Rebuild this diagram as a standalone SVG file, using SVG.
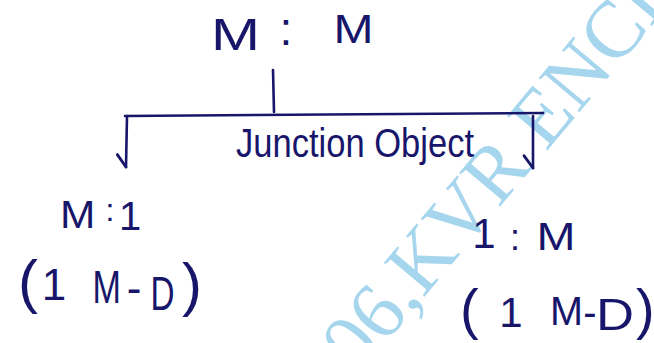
<svg xmlns="http://www.w3.org/2000/svg" width="654" height="343" viewBox="0 0 654 343">
  <style>
    .ink { fill: #17166a; font-family: "Liberation Sans", Arial, sans-serif; }
    .line { stroke: #17166a; stroke-width: 2.6; fill: none; stroke-linecap: round; stroke-linejoin: round; }
    .wm { fill: #a6d5ee; font-family: "Liberation Serif", "Times New Roman", serif; font-size: 81px; }
  </style>
  <defs>
    <marker id="half" markerUnits="userSpaceOnUse" markerWidth="20" markerHeight="20" refX="0" refY="0" orient="auto" viewBox="-14 -4 18 16" overflow="visible">
      <path d="M-11,8 L0,0" stroke="#17166a" stroke-width="2.6" fill="none" stroke-linecap="round"/>
    </marker>
  </defs>
  <rect width="654" height="343" fill="#ffffff"/>

  <text class="wm" transform="translate(358,376) rotate(-50)" x="0" y="0">06,KVR ENCL</text>

  <g id="connectors">
    <path class="line" d="M273,70 L274,112"/>
    <path class="line" d="M125,116 L543,113"/>
    <path class="line" d="M127,116 L126,167" marker-end="url(#half)"/>
    <path class="line" d="M533,116 L533,168" marker-end="url(#half)"/>
  </g>

  <g id="node-mm">
    <text class="ink" x="211" y="50" font-size="44" textLength="49" lengthAdjust="spacingAndGlyphs">M</text>
    <text class="ink" x="286" y="45" font-size="46" text-anchor="middle">:</text>
    <text class="ink" x="333.4" y="43" font-size="40" textLength="40" lengthAdjust="spacingAndGlyphs">M</text>
  </g>

  <g id="node-junction">
    <text class="ink" x="236" y="157" font-size="40" textLength="238" lengthAdjust="spacingAndGlyphs">Junction Object</text>
  </g>

  <g id="node-m1">
    <text class="ink" x="60" y="228" font-size="39" textLength="35.4" lengthAdjust="spacingAndGlyphs">M</text>
    <text class="ink" x="110" y="221" font-size="32" text-anchor="middle">:</text>
    <text class="ink" x="130" y="230" font-size="40" text-anchor="middle">1</text>
    <text class="ink" x="18" y="302" font-size="60">(</text>
    <text class="ink" x="54" y="300" font-size="44" text-anchor="middle">1</text>
    <text class="ink" x="92.5" y="303" font-size="46" textLength="28.4" lengthAdjust="spacingAndGlyphs">M</text>
    <text class="ink" x="134" y="303" font-size="44" text-anchor="middle">-</text>
    <text class="ink" x="150.4" y="310" font-size="48" textLength="24" lengthAdjust="spacingAndGlyphs">D</text>
    <text class="ink" x="182" y="305" font-size="60">)</text>
  </g>

  <g id="node-1m">
    <text class="ink" x="484" y="248" font-size="42" text-anchor="middle">1</text>
    <text class="ink" x="515" y="250" font-size="36" text-anchor="middle">:</text>
    <text class="ink" x="536.5" y="250" font-size="38" textLength="39" lengthAdjust="spacingAndGlyphs">M</text>
    <text class="ink" x="460" y="328" font-size="56">(</text>
    <text class="ink" x="511" y="327" font-size="42" text-anchor="middle">1</text>
    <text class="ink" x="550" y="325" font-size="40" textLength="33" lengthAdjust="spacingAndGlyphs">M</text>
    <text class="ink" x="590" y="326" font-size="40" text-anchor="middle">-</text>
    <text class="ink" x="596" y="330" font-size="44" textLength="38" lengthAdjust="spacingAndGlyphs">D</text>
    <text class="ink" x="636" y="328" font-size="56">)</text>
  </g>
</svg>
